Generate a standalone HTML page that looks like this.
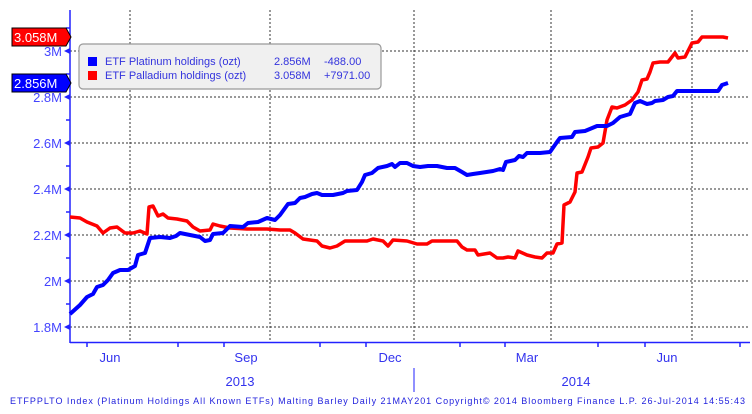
<!DOCTYPE html><html><head><style>body{margin:0;background:#fff;width:752px;height:409px;overflow:hidden}</style></head><body>
<svg width="752" height="409" xmlns="http://www.w3.org/2000/svg" font-family="Liberation Sans, sans-serif">
<g stroke="#333" stroke-width="1" stroke-dasharray="2,2">
<line x1="70" y1="51" x2="750" y2="51"/><line x1="70" y1="97" x2="750" y2="97"/><line x1="70" y1="143" x2="750" y2="143"/><line x1="70" y1="189" x2="750" y2="189"/><line x1="70" y1="235" x2="750" y2="235"/><line x1="70" y1="281" x2="750" y2="281"/><line x1="70" y1="327" x2="750" y2="327"/>
<line x1="130" y1="10" x2="130" y2="342"/><line x1="270" y1="10" x2="270" y2="342"/><line x1="414" y1="10" x2="414" y2="342"/><line x1="551" y1="10" x2="551" y2="342"/><line x1="692" y1="10" x2="692" y2="342"/>
</g>
<g stroke="#2222ff" stroke-width="1.5"><line x1="70" y1="10" x2="70" y2="343"/><line x1="70" y1="342.5" x2="750" y2="342.5"/>
<line x1="70" y1="28" x2="66" y2="28"/><line x1="70" y1="74" x2="66" y2="74"/><line x1="70" y1="120" x2="66" y2="120"/><line x1="70" y1="166" x2="66" y2="166"/><line x1="70" y1="212" x2="66" y2="212"/><line x1="70" y1="258" x2="66" y2="258"/><line x1="70" y1="304" x2="66" y2="304"/>
<line x1="87" y1="343" x2="87" y2="347"/><line x1="178" y1="343" x2="178" y2="347"/><line x1="224" y1="343" x2="224" y2="347"/><line x1="320" y1="343" x2="320" y2="347"/><line x1="366" y1="343" x2="366" y2="347"/><line x1="460" y1="343" x2="460" y2="347"/><line x1="505" y1="343" x2="505" y2="347"/><line x1="598" y1="343" x2="598" y2="347"/><line x1="645" y1="343" x2="645" y2="347"/><line x1="740" y1="343" x2="740" y2="347"/>
<line x1="414" y1="368" x2="414" y2="392" stroke-width="1"/></g>
<g fill="#2222ff"><polygon points="64,51 70,48 70,54"/><polygon points="64,97 70,94 70,100"/><polygon points="64,143 70,140 70,146"/><polygon points="64,189 70,186 70,192"/><polygon points="64,235 70,232 70,238"/><polygon points="64,281 70,278 70,284"/><polygon points="64,327 70,324 70,330"/></g>
<g fill="#4444ff" font-size="13" text-anchor="end">
<text x="62" y="56">3M</text><text x="62" y="102">2.8M</text><text x="62" y="148">2.6M</text><text x="62" y="194">2.4M</text><text x="62" y="240">2.2M</text><text x="62" y="286">2M</text><text x="62" y="332">1.8M</text></g>
<g fill="#3333ee" font-size="13" text-anchor="middle">
<text x="110" y="362">Jun</text><text x="246" y="362">Sep</text><text x="390" y="362">Dec</text><text x="527" y="362">Mar</text><text x="667" y="362">Jun</text>
<text x="240" y="386">2013</text><text x="576" y="386">2014</text></g>
<text x="10" y="404" font-size="9" fill="#2222dd" textLength="735">ETFPPLTO Index (Platinum Holdings All Known ETFs) Malting Barley  Daily 21MAY201  Copyright© 2014 Bloomberg Finance L.P.  26-Jul-2014 14:55:43</text>
<polyline fill="none" stroke="#ff0000" stroke-width="3.5" stroke-linejoin="round" points="70,217 80,218 87,222 97,226 103,233 110,228 117,227 125,233 133,233 140,231 147,234 149,207 153,206 158,216 163,214 168,218 177,219 187,221 193,227 200,231 210,230 213,224 220,226 230,228 247,229 267,229 280,230 290,230 295,233 303,239 317,241 322,246 330,248 337,246 345,241 367,241 373,239 383,241 388,246 393,240 407,241 417,244 427,244 432,241 457,241 462,247 467,250 475,250 478,255 490,253 497,258 503,258 508,257 515,258 518,251 527,255 535,257 542,258 547,253 553,253 557,244 562,243 564,205 570,202 575,192 577,173 582,172 588,157 591,148 598,147 603,143 607,120 612,107 617,108 625,105 632,100 638,92 642,80 647,79 650,72 653,63 660,62 668,62 675,53 678,58 685,57 692,43 698,42 702,37 720,37 723,37 728,38"/>
<polyline fill="none" stroke="#0000ff" stroke-width="4" stroke-linejoin="round" points="70,314 80,305 87,297 93,294 97,287 103,285 108,280 113,273 120,270 128,270 135,266 138,255 145,253 150,238 160,237 170,238 176,236 180,233 190,235 200,237 205,241 210,240 213,234 223,233 230,226 243,227 248,223 258,222 267,218 275,220 280,215 288,204 295,203 300,198 305,197 312,194 317,193 322,195 333,195 343,193 347,191 357,190 362,182 365,175 372,173 378,168 387,166 392,164 395,167 400,163 407,163 413,166 420,167 428,166 437,166 447,168 455,168 462,172 467,175 473,174 480,173 493,171 500,169 503,170 506,162 515,160 519,156 523,157 527,153 540,153 550,152 557,142 560,138 572,137 575,132 585,131 597,126 607,126 613,123 620,117 630,114 635,103 640,101 647,104 652,103 655,101 663,100 668,97 673,96 677,91 718,91 722,85 728,83"/>
<rect x="79" y="44" width="302" height="45" rx="4" fill="#f0f0f0" stroke="#999" stroke-width="1.2"/>
<rect x="88" y="57" width="9" height="9" fill="#0000ff"/><rect x="88" y="71" width="9" height="9" fill="#ff0000"/>
<g font-size="11" fill="#3333dd"><text x="105" y="65">ETF Platinum holdings (ozt)</text><text x="105" y="79">ETF Palladium holdings (ozt)</text>
<text x="274" y="65">2.856M</text><text x="274" y="79">3.058M</text><text x="324" y="65">-488.00</text><text x="324" y="79">+7971.00</text></g>
<polygon points="12,28 66,28 71,37 66,46 12,46" fill="#ff0000" stroke="#000" stroke-width="1"/>
<text x="14" y="42" font-size="13" fill="#fff">3.058M</text>
<polygon points="12,74 66,74 71,83 66,92 12,92" fill="#0000ff" stroke="#000" stroke-width="1"/>
<text x="14" y="88" font-size="13" fill="#fff">2.856M</text>
</svg></body></html>
